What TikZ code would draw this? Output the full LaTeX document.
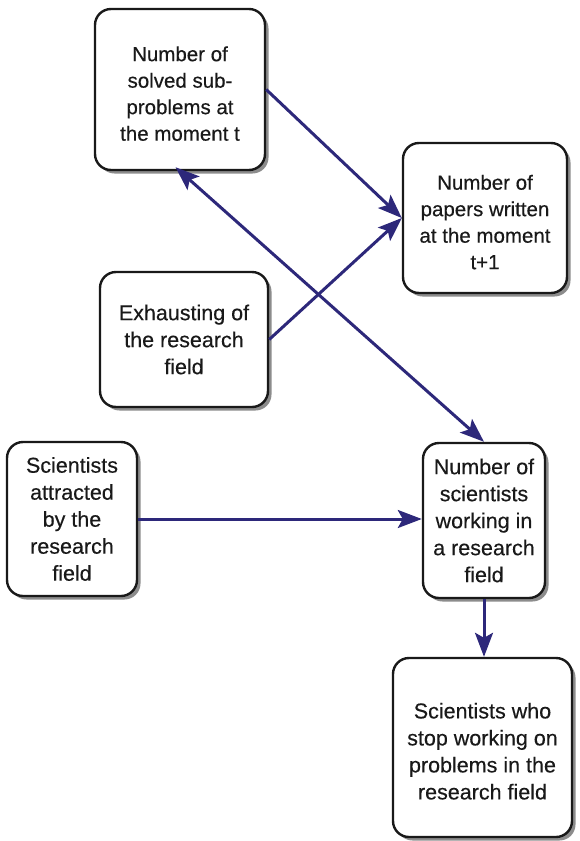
\documentclass[tikz,border=0pt]{standalone}
\usepackage{fontspec}
\setmainfont{Liberation Sans}[FakeBold=0.35]
\usetikzlibrary{arrows.meta,shadows}
\definecolor{arrowblue}{RGB}{45,40,122}
\tikzset{
  box/.style={draw=black!90, line width=2.4pt, rounded corners=16pt, fill=white,
    align=center, inner sep=0pt, text=black!90,
    drop shadow={shadow xshift=3.5pt, shadow yshift=-3.5pt, fill=black!45, opacity=1}},
  tip/.tip={Stealth[length=24pt,width=18pt,inset=5pt]},
  conn/.style={draw=arrowblue, line width=3pt, -tip},
  bigtext/.style={font=\fontsize{21.5}{27}\selectfont},
  smalltext/.style={font=\fontsize{20.5}{26.5}\selectfont}
}
\newcommand{\lowerfirst}{\rule{0pt}{23pt}}
\begin{document}
\begin{tikzpicture}[x=1pt,y=-1pt]
\useasboundingbox (0,0) rectangle (580,841);
\node[box, smalltext, minimum width=170pt, minimum height=161pt] (solved) at (180,89.5)
  {\lowerfirst Number of\\solved sub-\\problems at\\the moment t};
\node[box, smalltext, minimum width=164pt, minimum height=150pt] (papers) at (485,218)
  {\lowerfirst Number of\\papers written\\at the moment\\t+1};
\node[box, bigtext, minimum width=168pt, minimum height=135pt] (exhaust) at (184,339.5)
  {Exhausting of\\the research\\field};
\node[box, bigtext, minimum width=130pt, minimum height=154pt] (attract) at (72,519)
  {Scientists\\attracted\\by the\\research\\field};
\node[box, bigtext, minimum width=122pt, minimum height=155pt] (working) at (484,520.5)
  {Number of\\scientists\\working in\\a research\\field};
\node[box, bigtext, minimum width=179pt, minimum height=179pt] (stop) at (482.5,747.5)
  {\lowerfirst Scientists who\\stop working on\\problems in the\\research field};
\draw[conn] (solved.east) -- (papers.west);
\draw[conn] (exhaust.east) -- (papers.west);
\draw[conn, tip-tip, shorten <=-6pt]
  (solved.south) -- (working.north);
\draw[conn] (attract.east) -- (attract.east -| working.west);
\draw[conn] (working.south) -- (working.south |- stop.north);
\end{tikzpicture}
\end{document}
